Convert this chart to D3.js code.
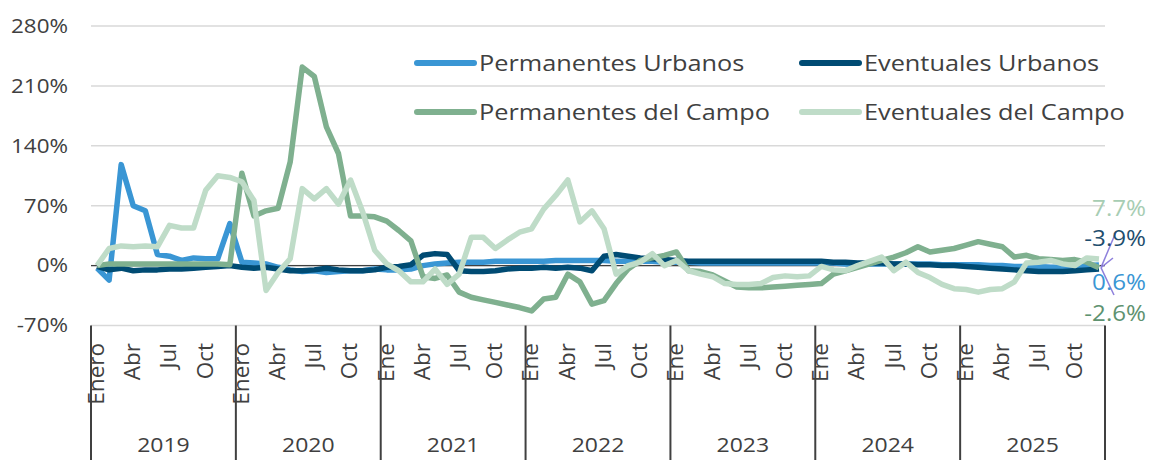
<!DOCTYPE html>
<html>
<head>
<meta charset="utf-8">
<script src="https://cdn.jsdelivr.net/npm/d3@7"></script>
<style>
  body { margin: 0; background: #fff; }
  text { font-family: "Open Sans", sans-serif; fill: #404040; }
</style>
</head>
<body>
<svg id="vis" width="1152" height="460"></svg>
<script>
// series, one value per month, Jan 2019 .. Dec 2025
const years = [2019, 2020, 2021, 2022, 2023, 2024, 2025];
const monthTicks = [0, 3, 6, 9];
const monthNames = ["Ene", "Abr", "Jul", "Oct"];
const yTicks = [-70, 0, 70, 140, 210, 280];

const permUrbanos = [
  -3, -17, 118, 70, 64, 13, 11, 6, 9, 8, 8, 49,
  4, 3, 2, -2, -5, -7, -6, -8, -7, -6, -6, -4,
  -5, -5, -4, 0, 2, 3, 4, 4, 4, 5, 5, 5,
  5, 5, 6, 6, 6, 6, 6, 5, 5, 5, 5, 4,
  4, 4, 3, 3, 3, 3, 3, 3, 3, 3, 3, 3,
  3, 3, 2, 2, 2, 2, 2, 2, 2, 2, 1, 1,
  1, 1, 0, 0, -1, -1, -1, -2, -2, -1, 0, 0.6
];
const eventUrbanos = [
  -1, -5, -3, -6, -5, -5, -4, -4, -3, -2, -1, 0,
  -2, -3, -2, -4, -6, -6, -5, -3, -5, -6, -6, -5,
  -2, -1, 1, 12, 14, 13, -6, -7, -7, -6, -4, -3,
  -3, -2, -3, -2, -3, -6, 11, 13, 11, 9, 8, 7,
  6, 5, 5, 5, 5, 5, 5, 5, 5, 5, 5, 5,
  5, 4, 4, 3, 3, 3, 2, 2, 1, 1, 0, 0,
  -1, -2, -3, -4, -5, -6, -7, -7, -7, -6, -5, -3.9
];
const permCampo = [
  0, 2, 2, 2, 2, 2, 2, 2, 2, 2, 2, 1,
  108, 58, 64, 67, 121, 232, 221, 162, 131, 58, 58, 57,
  52, 41, 29, -13, -15, -11, -31, -37, -40, -43, -46, -49,
  -53, -39, -37, -10, -19, -45, -41, -21, -4, 6, 9, 12,
  16, -6, -7, -11, -18, -25, -26, -26, -25, -24, -23, -22,
  -21, -10, -6, -2, 2, 6, 10, 15, 22, 16, 18, 20,
  24, 28, 25, 22, 10, 12, 8, 7, 6, 7, 4, -2.6
];
const eventCampo = [
  0, 20, 23, 22, 23, 22, 47, 44, 44, 88, 105, 103,
  98, 76, -29, -8, 8, 90, 78, 90, 72, 100, 63, 18,
  2, -6, -19, -19, -4, -22, -10, 33, 33, 20, 30, 39,
  43, 66, 82, 100, 51, 64, 43, -10, 0, 4, 14, 0,
  6, -6, -10, -13, -21, -22, -22, -21, -14, -12, -13, -12,
  -1, -5, -6, 0, 5, 10, -6, 4, -8, -14, -22, -27,
  -28, -31, -28, -27, -19, 3, 4, 6, 2, 0, 9, 7.7
];

const series = [
  { name: "Permanentes Urbanos", values: permUrbanos, color: "#3a96d4", labelColor: "#3a96d4" },
  { name: "Eventuales Urbanos", values: eventUrbanos, color: "#004b73", labelColor: "#1f4e6e" },
  { name: "Permanentes del Campo", values: permCampo, color: "#7fb08f", labelColor: "#5e9270" },
  { name: "Eventuales del Campo", values: eventCampo, color: "#bfdcc8", labelColor: "#a7cdb3" }
];

const svg = d3.select("svg#vis");
const plotLeft = 91, plotRight = 1105, plotTop = 26, plotBottom = 325.5;
const stretch = 1.15;

const months = d3.range(years.length * 12);
const x = d3.scalePoint().domain(months).range([plotLeft, plotRight]).padding(0.5);
const y = d3.scaleLinear().domain([-70, 280]).range([plotBottom, plotTop]);
const yearX = d3.scaleLinear().domain([0, years.length]).range([plotLeft, plotRight]);

// gridlines
svg.append("g").selectAll("line")
  .data(yTicks)
  .enter().append("line")
  .attr("x1", plotLeft).attr("x2", plotRight)
  .attr("y1", d => y(d)).attr("y2", d => y(d))
  .attr("stroke", "#d9d9d9")
  .attr("stroke-width", 1.5);

// y labels
svg.append("g").selectAll("text")
  .data(yTicks)
  .enter().append("text")
  .attr("transform", d => "translate(68," + y(d) + ") scale(" + stretch + ",1)")
  .attr("dy", "0.35em")
  .attr("text-anchor", "end")
  .style("font-size", "19.5px")
  .text(d => d + "%");

// zero axis
svg.append("line")
  .attr("x1", plotLeft).attr("x2", plotRight)
  .attr("y1", y(0)).attr("y2", y(0))
  .attr("stroke", "#404040")
  .attr("stroke-width", 1.2);

// year separators
svg.append("g").selectAll("line")
  .data(d3.range(years.length + 1))
  .enter().append("line")
  .attr("x1", d => yearX(d)).attr("x2", d => yearX(d))
  .attr("y1", plotBottom).attr("y2", 460)
  .attr("stroke", "#404040")
  .attr("stroke-width", 2);

// month labels
const monthLabels = [];
years.forEach(function(yr, i) {
  monthTicks.forEach(function(m, j) {
    let label = monthNames[j];
    if (j == 0 && yr < 2021) label = "Enero";
    monthLabels.push({ idx: i * 12 + m, label: label });
  });
});
svg.append("g").selectAll("text")
  .data(monthLabels)
  .enter().append("text")
  .attr("transform", d => "translate(" + (x(d.idx) - 1) + ",343) rotate(-90)")
  .attr("dy", "0.35em")
  .attr("text-anchor", "end")
  .style("font-size", "22.5px")
  .text(d => d.label);

// year labels
svg.append("g").selectAll("text")
  .data(years)
  .enter().append("text")
  .attr("transform", (d, i) => "translate(" + yearX(i + 0.5) + ",445) scale(" + stretch + ",1)")
  .attr("dy", "0.35em")
  .attr("text-anchor", "middle")
  .style("font-size", "20px")
  .text(d => d);

// lines
const line = d3.line()
  .x((d, i) => x(i))
  .y(d => y(d));

svg.append("g").selectAll("path")
  .data(series)
  .enter().append("path")
  .attr("d", d => line(d.values))
  .attr("fill", "none")
  .attr("stroke", d => d.color)
  .attr("stroke-width", 5.5)
  .attr("stroke-linejoin", "round");

// legend
const legendPos = [
  { x: 417, y: 63 }, { x: 802, y: 63 },
  { x: 417, y: 112 }, { x: 802, y: 112 }
];
const legend = svg.append("g").selectAll("g")
  .data(series)
  .enter().append("g")
  .attr("transform", (d, i) => "translate(" + legendPos[i].x + "," + legendPos[i].y + ")");
legend.append("line")
  .attr("x1", 0).attr("x2", 57)
  .attr("stroke", d => d.color)
  .attr("stroke-width", 6)
  .attr("stroke-linecap", "round");
legend.append("text")
  .attr("transform", "translate(62,0) scale(" + stretch + ",1)")
  .attr("dy", "0.35em")
  .style("font-size", "22px")
  .text(d => d.name);

// end labels with leader lines
const endLabels = [
  { s: 3, y: 209 }, { s: 1, y: 239 }, { s: 0, y: 283 }, { s: 2, y: 314 }
];
const lastX = x(months.length - 1);
const leaders = [[1116, 232], [1113, 258], [1114, 295]];
svg.append("g").selectAll("line")
  .data(leaders)
  .enter().append("line")
  .attr("x1", lastX + 2).attr("y1", y(0) + 2)
  .attr("x2", d => d[0]).attr("y2", d => d[1])
  .attr("stroke", "#8e80dc")
  .attr("stroke-width", 1.5);

svg.append("g").selectAll("text")
  .data(endLabels)
  .enter().append("text")
  .attr("transform", d => "translate(1146," + d.y + ") scale(" + stretch + ",1)")
  .attr("dy", "0.35em")
  .attr("text-anchor", "end")
  .style("font-size", "21px")
  .style("fill", d => series[d.s].labelColor)
  .text(d => {
    const v = series[d.s].values[months.length - 1];
    return v.toFixed(1) + "%";
  });
</script>
</body>
</html>
